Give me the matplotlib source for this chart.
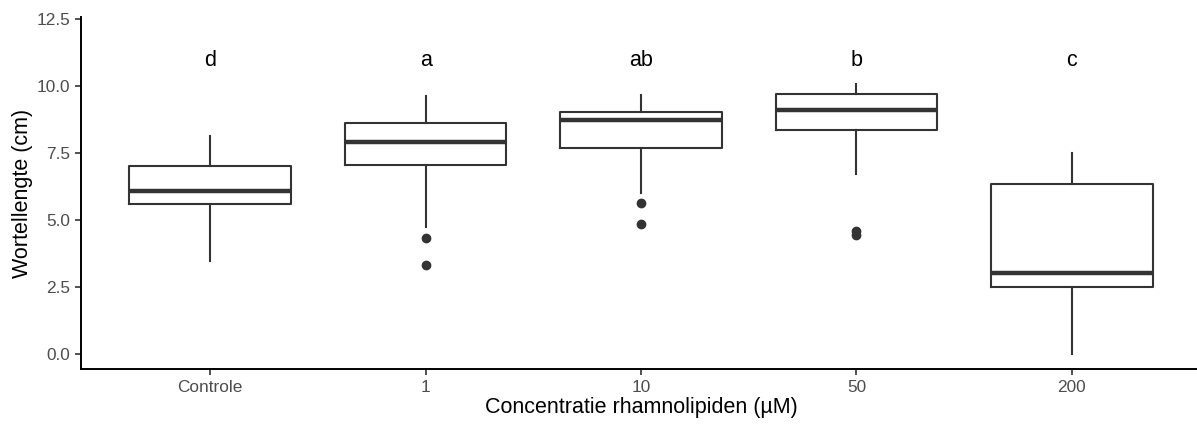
import matplotlib
matplotlib.use("Agg")
import matplotlib.pyplot as plt

plt.rcParams['font.family'] = ['Liberation Sans', 'DejaVu Sans']

# summary statistics per concentration
groups = ["Controle", "1", "10", "50", "200"]
whis_low = [3.49, 4.76, 6.01, 6.73, 0.0]
q1 = [5.60, 7.05, 7.71, 8.36, 2.50]
median = [6.10, 7.91, 8.74, 9.10, 3.03]
q3 = [7.01, 8.64, 9.04, 9.71, 6.35]
whis_high = [8.15, 9.64, 9.67, 10.10, 7.50]
outliers = [[], [4.35, 3.34], [5.65, 4.86], [4.60, 4.45], []]
letters = ["d", "a", "ab", "b", "c"]
letter_y = 10.95

stats = []
for i, g in enumerate(groups):
    stats.append(dict(label=g, whislo=whis_low[i], q1=q1[i], med=median[i],
                      q3=q3[i], whishi=whis_high[i], fliers=outliers[i]))

fig = plt.figure(figsize=(11.97, 4.24), dpi=100)
ax = fig.add_axes([81 / 1197, 1 - 369 / 424, 1120 / 1197, 352 / 424])

dark = "#333333"
ax.bxp(stats, positions=range(len(groups)), widths=0.75, showcaps=False,
       boxprops=dict(color=dark, linewidth=1.5),
       whiskerprops=dict(color=dark, linewidth=1.5),
       medianprops=dict(color=dark, linewidth=3.2, solid_capstyle='butt'),
       flierprops=dict(marker='o', markerfacecolor=dark, markeredgecolor=dark,
                       markersize=6))

for i, lab in enumerate(letters):
    ax.text(i, letter_y, lab, ha='center', va='center', fontsize=15.5, color='black')

ax.set_xlim(-0.6, len(groups) - 0.4)
ax.set_ylim(-0.55, 12.59)
ax.set_yticks([0, 2.5, 5, 7.5, 10, 12.5])
ax.set_yticklabels(["0.0", "2.5", "5.0", "7.5", "10.0", "12.5"])
ax.set_xticks(range(len(groups)))
ax.set_xticklabels(groups)

for side in ['top', 'right']:
    ax.spines[side].set_visible(False)
for side in ['left', 'bottom']:
    ax.spines[side].set_linewidth(1.4)
    ax.spines[side].set_color('black')

ax.tick_params(axis='both', colors=dark, length=4, width=1.2,
               labelsize=12.4, labelcolor="#4D4D4D", pad=4)

ax.set_xlabel("Concentratie rhamnolipiden (µM)", fontsize=15.5, labelpad=1)
ax.set_ylabel("Wortellengte (cm)", fontsize=15.5, labelpad=2)

fig.savefig("out.png", dpi=100)
